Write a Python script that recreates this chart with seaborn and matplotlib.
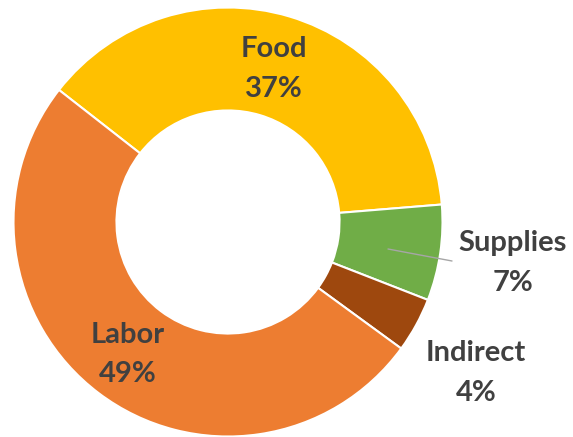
import numpy as np
import matplotlib
matplotlib.use("Agg")
import matplotlib.pyplot as plt
import seaborn as sns

categories = ["Food", "Supplies", "Indirect", "Labor"]
values = [37, 7, 4, 49]
colors = ["#FFC000", "#70AD47", "#9E480E", "#ED7D31"]

sns.set_theme(style="white")
plt.rcParams['font.family'] = ['Lato', 'DejaVu Sans']

W, H = 573, 437
fig = plt.figure(figsize=(W / 100, H / 100), dpi=100)
cx, cy, R = 228, 222, 214.5
ax = fig.add_axes([(cx - R) / W, (H - cy - R) / H, 2 * R / W, 2 * R / H])

wedges, _ = ax.pie(values, colors=colors, startangle=142, counterclock=False,
                   radius=1.0, wedgeprops=dict(width=0.48, edgecolor="white", linewidth=1.5))
ax.set_xlim(-1, 1)
ax.set_ylim(-1, 1)
ax.set_aspect("equal")
ax.axis("off")

def px2d(px, py):
    return (px - cx) / R, (cy - py) / R

tc = "#404040"
fs = 21
ls = 1.65
inner_r = {"Food": 0.745, "Labor": 0.775}
for w, cat, v in zip(wedges, categories, values):
    pct = f"{v}%"
    mid = np.deg2rad((w.theta1 + w.theta2) / 2)
    if cat in inner_r:
        r = inner_r[cat]
        x, y = r * np.cos(mid), r * np.sin(mid)
        ax.text(x, y, f"{cat}\n{pct}", ha="center", va="center", fontsize=fs,
                fontweight="bold", color=tc, linespacing=ls)

sx, sy = px2d(513, 263)
ax.text(sx, sy, f"{categories[1]}\n{values[1]}%", ha="center", va="center", fontsize=fs,
        fontweight="bold", color=tc, linespacing=ls, clip_on=False)
ix, iy = px2d(476, 373)
ax.text(ix, iy, f"{categories[2]}\n{values[2]}%", ha="center", va="center", fontsize=fs,
        fontweight="bold", color=tc, linespacing=ls, clip_on=False)

x0, y0 = px2d(388, 249)
x1, y1 = px2d(452, 261)
ax.plot([x0, x1], [y0, y1], color="#A6A6A6", lw=1.0, clip_on=False)

fig.savefig("out.png", dpi=100, facecolor="white")
